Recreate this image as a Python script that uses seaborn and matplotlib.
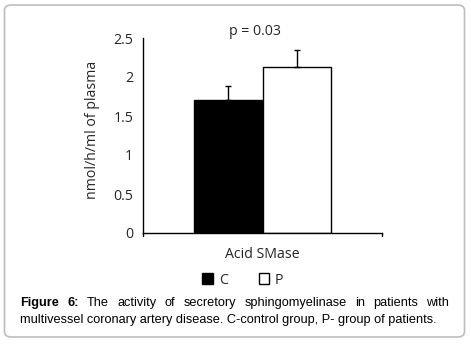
import numpy as np
import pandas as pd
import seaborn as sns
import matplotlib
matplotlib.use('Agg')
import matplotlib.pyplot as plt
from matplotlib.patches import FancyBboxPatch, Patch

# data
categories = ['Acid SMase', 'Acid SMase']
groups = ['C', 'P']
means = [1.71, 2.13]
sem_upper = [0.17, 0.21]
bar_colors = ['black', 'white']
yticks = [0, 0.5, 1, 1.5, 2, 2.5]
ytick_labels = ['0', '0.5', '1', '1.5', '2', '2.5']

caption_bold = 'Figure 6:'
caption_line1 = 'The activity of secretory sphingomyelinase in patients with'
caption_line2 = 'multivessel coronary artery disease. C-control group, P- group of patients.'

df = pd.DataFrame({'cat': categories, 'group': groups, 'value': means})

sns.set_style('white')
plt.rcParams['font.family'] = ['Open Sans', 'DejaVu Sans']

fig = plt.figure(figsize=(4.71, 3.47), dpi=100)
W, H = 471, 347

# rounded frame around the figure
frame = FancyBboxPatch((4.5 / W, 10 / H), 460 / W, 332 / H,
                       boxstyle='round,pad=0,rounding_size=0.015',
                       transform=fig.transFigure, fill=False,
                       edgecolor='#bdbdbd', linewidth=1.2)
fig.patches.append(frame)

ax = fig.add_axes([143 / W, 1 - 233 / H, (382 - 143) / W, (233 - 38) / H])
sns.barplot(data=df, x='cat', y='value', hue='group', palette=bar_colors,
            edgecolor='black', linewidth=1.0, width=0.575, legend=False, ax=ax)

# error bars (upper only) at bar centres
bars = [p for p in ax.patches][:len(groups)]
xs = [b.get_x() + b.get_width() / 2 for b in bars]
ax.errorbar(xs, means, yerr=[[0] * len(means), sem_upper], fmt='none',
            ecolor='black', elinewidth=1.0, capsize=2.2, capthick=1.0)

ax.set_ylim(0, 2.5)
ax.set_xlim(-0.5, 0.5)
ax.set_yticks(yticks)
ax.set_yticklabels(ytick_labels, fontsize=10.2)
ax.tick_params(axis='y', direction='out', length=4, width=1, color='black', pad=3)
ax.tick_params(axis='x', length=0, labelsize=10.2, pad=10)
ax.set_xticks([0])
ax.set_xticklabels(['Acid SMase'])
# small end ticks on the x axis
ax.plot([-0.5, -0.5], [0, -0.035], color='black', lw=1, clip_on=False)
ax.plot([0.5, 0.5], [0, -0.035], color='black', lw=1, clip_on=False)
ax.set_xlabel('')
ax.set_ylabel('nmol/h/ml of plasma', fontsize=10.2)
ax.yaxis.set_label_coords(-0.18, 0.53)
ax.set_title('p = 0.03', fontsize=10.2, pad=2, x=0.47)
sns.despine(ax=ax)
for s in ['left', 'bottom']:
    ax.spines[s].set_color('black')
    ax.spines[s].set_linewidth(1)

handles = [Patch(facecolor=c, edgecolor='black', linewidth=1) for c in bar_colors]
fig.legend(handles, groups, loc='center', bbox_to_anchor=(243 / W, 1 - 280 / H),
           ncol=2, frameon=False, fontsize=10.2, handlelength=0.75,
           handleheight=0.75, handletextpad=0.4, columnspacing=2.2)

# justified caption
cap_font = dict(family=['Liberation Sans', 'DejaVu Sans'], fontsize=9.2, color='black')
left, right = 20, 449
y1, y2 = 1 - 303 / H, 1 - 320 / H
fig.canvas.draw()
r = fig.canvas.get_renderer()
words = [(w, True) for w in caption_bold.split()] + [(w, False) for w in caption_line1.split()]
texts = []
for w, b in words:
    t = fig.text(0, y1, w, va='center', ha='left',
                 fontweight='bold' if b else 'normal', **cap_font)
    texts.append(t)
widths = [t.get_window_extent(r).width for t in texts]
gap = (right - left - sum(widths)) / (len(texts) - 1)
x = left
for t, wd in zip(texts, widths):
    t.set_x(x / W)
    x += wd + gap
fig.text(left / W, y2, caption_line2, va='center', ha='left', **cap_font)

fig.savefig('out.png', dpi=100)
